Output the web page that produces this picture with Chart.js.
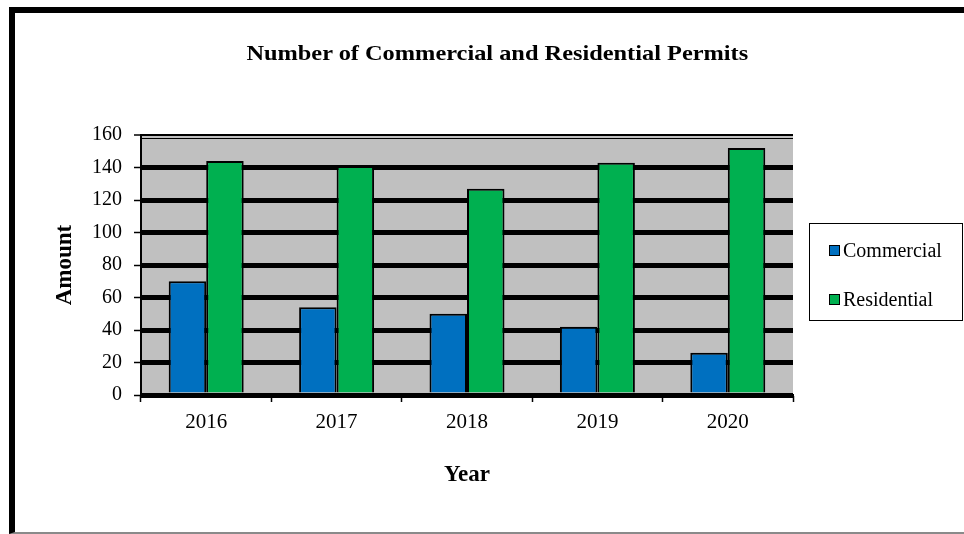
<!DOCTYPE html>
<html>
<head>
<meta charset="utf-8">
<title>Permits</title>
<script src="https://cdn.jsdelivr.net/npm/chart.js@4"></script>
<style>
    html, body { margin: 0; padding: 0; background: #fff; }
    #wrap { position: relative; width: 964px; height: 534px; overflow: hidden; }
    #frame {
        position: absolute; left: 9px; top: 7px; width: 1000px; height: 519px;
        border-left: 6px solid #000; border-top: 6px solid #000; border-bottom: 2px solid #8a8a8a;
    }
    #chart { position: absolute; left: 0; top: 0; }
    #title {
        position: absolute; left: 0; top: 41px; width: 994px; text-align: center;
        font: bold 21px "Liberation Serif", serif; color: #000;
    }
    #title span { display: inline-block; transform: scaleX(1.16); }
    #legend {
        position: absolute; left: 809px; top: 223px; width: 152px; height: 96px;
        border: 1.5px solid #000; font: 20px "Liberation Serif", serif; color: #000;
    }
    #legend .item { position: absolute; left: 19px; height: 24px; line-height: 24px; }
    #legend .box {
        display: inline-block; width: 9px; height: 9px; border: 1px solid #000;
        margin-right: 3px; vertical-align: 1px;
    }
</style>
</head>
<body>
<div id="wrap">
    <div id="frame"></div>
    <canvas id="chart" width="964" height="534"></canvas>
    <div id="title"><span>Number of Commercial and Residential Permits</span></div>
    <div id="legend"></div>
</div>
<script>
const years = ['2016', '2017', '2018', '2019', '2020'];
const commercial = [70, 54, 50, 42, 26];
const residential = [144, 141, 127, 143, 152];
const yMin = 0, yMax = 160, yStep = 20;

Chart.defaults.font.family = '"Liberation Serif", serif';
Chart.defaults.color = '#000';

// grey plot area plus the thin rule under the top edge
const plotArea = {
    id: 'plotArea',
    beforeDraw(chart) {
        const { ctx, chartArea: a } = chart;
        ctx.save();
        ctx.fillStyle = '#c0c0c0';
        ctx.fillRect(a.left, a.top, a.right - a.left, a.bottom - a.top);
        ctx.restore();
    },
    beforeDatasetsDraw(chart) {
        const { ctx, chartArea: a } = chart;
        ctx.save();
        ctx.strokeStyle = '#000';
        ctx.lineWidth = 1;
        ctx.beginPath();
        ctx.moveTo(a.left, a.top + 3.5);
        ctx.lineTo(a.right, a.top + 3.5);
        ctx.stroke();
        ctx.restore();
    }
};

const chart = new Chart(document.getElementById('chart').getContext('2d'), {
    type: 'bar',
    data: {
        labels: years,
        datasets: [
            { label: 'Commercial', data: commercial, backgroundColor: '#0070c0' },
            { label: 'Residential', data: residential, backgroundColor: '#00b050' }
        ]
    },
    options: {
        responsive: false,
        animation: false,
        layout: { padding: { top: 135, right: 171, bottom: 0, left: 0 } },
        datasets: {
            bar: {
                borderColor: '#000',
                borderWidth: 2,
                categoryPercentage: 0.575,
                barPercentage: 1.0
            }
        },
        plugins: {
            legend: { display: false },
            title: { display: false },
            tooltip: { enabled: false }
        },
        scales: {
            x: {
                grid: { drawOnChartArea: false, tickLength: 7, tickColor: '#000', tickWidth: 1.5 },
                border: { color: '#000', width: 2 },
                ticks: { font: { size: 21 }, padding: 8 },
                title: { display: true, text: 'Year', font: { size: 23, weight: 'bold' }, padding: { top: 0, bottom: 45 } },
                afterFit(scale) { scale.height = 139; }
            },
            y: {
                min: yMin,
                max: yMax,
                ticks: { stepSize: yStep, font: { size: 20 }, padding: 12 },
                grid: {
                    color: '#000',
                    lineWidth: c => (c.tick && c.tick.value === yMax ? 2 : 5),
                    tickLength: 7,
                    tickColor: '#000',
                    tickWidth: 1.5
                },
                border: { color: '#000', width: 2 },
                title: { display: true, text: 'Amount', font: { size: 23, weight: 'bold' }, padding: { top: 51, bottom: 0 } },
                afterFit(scale) { scale.width = 141; }
            }
        }
    },
    plugins: [plotArea]
});

// legend built from the datasets
const legend = document.getElementById('legend');
chart.data.datasets.forEach((ds, i) => {
    const item = document.createElement('div');
    item.className = 'item';
    item.style.top = (14 + i * 49) + 'px';
    item.innerHTML = '<span class="box" style="background:' + ds.backgroundColor + '"></span>' + ds.label;
    legend.appendChild(item);
});
</script>
</body>
</html>
